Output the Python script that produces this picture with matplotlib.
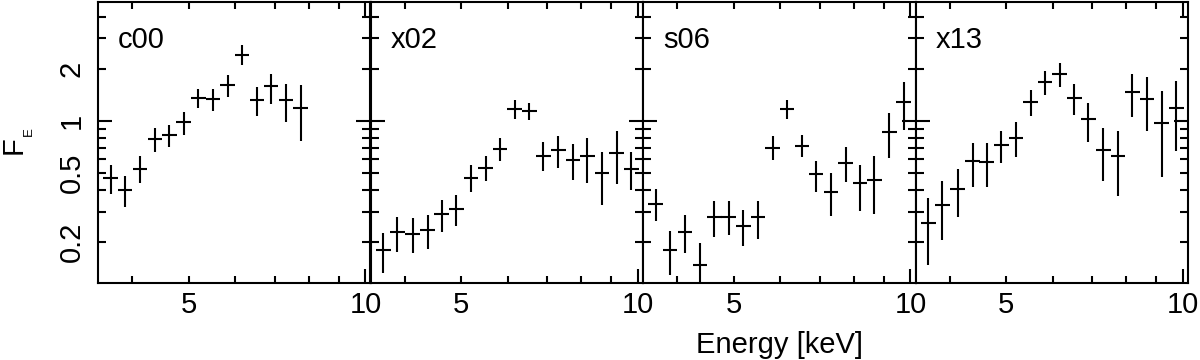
import matplotlib
matplotlib.use("Agg")
import matplotlib.pyplot as plt
from matplotlib.ticker import FixedLocator, FixedFormatter, NullFormatter
import numpy as np

plt.rcParams['font.family'] = ['Liberation Sans', 'DejaVu Sans']

# ---------------- data ----------------
panel_names = ["c00", "x02", "s06", "x13"]

energy_keV = [3.68, 3.89, 4.13, 4.38, 4.63, 4.90, 5.19, 5.50, 5.82, 6.16,
              6.53, 6.90, 7.32, 7.75, 8.20, 8.68, 9.20, 9.74]
log_half_bin = 0.0125  # half bin width in log10(E)

c00_flux = [0.468, 0.401, 0.530, 0.785, 0.831, 0.982, 1.350, 1.338, 1.610, 2.395,
            1.320, 1.596, 1.320, 1.193]
c00_lo = [0.379, 0.319, 0.438, 0.666, 0.706, 0.831, 1.183, 1.147, 1.380, 2.098,
          1.068, 1.252, 0.982, 0.767]
c00_hi = [0.554, 0.479, 0.624, 0.908, 0.948, 1.131, 1.521, 1.521, 1.838, 2.734,
          1.575, 1.879, 1.646, 1.610]

x02_flux = [0.180, 0.229, 0.224, 0.236, 0.291, 0.312, 0.468, 0.535, 0.690, 1.172,
            1.142, 0.632, 0.681, 0.597, 0.624, 0.500, 0.652, 0.530]
x02_lo = [0.132, 0.175, 0.172, 0.183, 0.229, 0.247, 0.387, 0.448, 0.584, 1.027,
          1.013, 0.516, 0.535, 0.458, 0.438, 0.326, 0.434, 0.401]
x02_hi = [0.226, 0.279, 0.276, 0.288, 0.352, 0.376, 0.554, 0.629, 0.802, 1.320,
          1.264, 0.754, 0.820, 0.738, 0.802, 0.666, 0.876, 0.660]

s06_flux = [0.333, 0.180, 0.229, 0.147, 0.279, 0.279, 0.247, 0.279, 0.696, 1.167,
            0.721, 0.494, 0.389, 0.571, 0.438, 0.458, 0.869, 1.291]
s06_lo = [0.266, 0.129, 0.172, 0.105, 0.215, 0.221, 0.190, 0.209, 0.592, 1.022,
          0.616, 0.389, 0.282, 0.444, 0.301, 0.291, 0.610, 0.888]
s06_hi = [0.405, 0.231, 0.288, 0.198, 0.344, 0.344, 0.305, 0.347, 0.820, 1.320,
          0.831, 0.584, 0.500, 0.706, 0.559, 0.632, 1.117, 1.683]

x13_flux = [0.256, 0.326, 0.405, 0.584, 0.579, 0.728, 0.802, 1.291, 1.683, 1.879,
            1.362, 1.022, 0.681, 0.629, 1.462, 1.338, 0.978, 1.183]
x13_lo = [0.147, 0.205, 0.279, 0.416, 0.414, 0.576, 0.618, 1.068, 1.411, 1.575,
          1.083, 0.761, 0.448, 0.371, 1.050, 0.876, 0.475, 0.675]
x13_hi = [0.359, 0.448, 0.528, 0.751, 0.744, 0.876, 0.982, 1.507, 1.947, 2.164,
          1.632, 1.264, 0.908, 0.880, 1.879, 1.798, 1.487, 1.705]

panel_data = [(c00_flux, c00_lo, c00_hi), (x02_flux, x02_lo, x02_hi),
              (s06_flux, s06_lo, s06_hi), (x13_flux, x13_lo, x13_hi)]

x_major = [10]
x_minor = [4, 5, 6, 7, 8, 9]
x_minor_labels = ["", "5", "", "", "", ""]
y_major = [1]
y_minor = [0.2, 0.3, 0.4, 0.5, 0.6, 0.7, 0.8, 0.9, 2, 3, 4]
y_minor_labels = ["0.2", "", "", "0.5", "", "", "", "", "2", "", ""]

# ---------------- figure ----------------
W, H = 1200, 360
fig = plt.figure(figsize=(W / 100, H / 100), dpi=100)

left_px, right_px, top_px, bot_px = 98, 1188, 2, 283
pw = (right_px - left_px) / 4
FS = 21
LW = 1.5

for i, (name, (flux, lo, hi)) in enumerate(zip(panel_names, panel_data)):
    ax = fig.add_axes([(left_px + i * pw) / W, 1 - bot_px / H, pw / W, (bot_px - top_px) / H])
    n = len(flux)
    E = np.array(energy_keV[:n])
    f = np.array(flux)
    yerr = [f - np.array(lo), np.array(hi) - f]
    xerr = [E * (1 - 10 ** (-log_half_bin)), E * (10 ** log_half_bin - 1)]
    ax.errorbar(E, f, yerr=yerr, xerr=xerr, fmt='none', ecolor='black',
                elinewidth=LW, capsize=0, clip_on=True)
    ax.set_xscale('log')
    ax.set_yscale('log')
    ax.set_xlim(3.5, 10.2)
    ax.set_ylim(0.116, 4.87)

    ax.xaxis.set_major_locator(FixedLocator(x_major))
    ax.xaxis.set_minor_locator(FixedLocator(x_minor))
    ax.xaxis.set_major_formatter(FixedFormatter(["10"]))
    ax.xaxis.set_minor_formatter(FixedFormatter(x_minor_labels))

    ax.yaxis.set_major_locator(FixedLocator(y_major))
    ax.yaxis.set_minor_locator(FixedLocator(y_minor))
    if i == 0:
        ax.yaxis.set_major_formatter(FixedFormatter(["1"]))
        ax.yaxis.set_minor_formatter(FixedFormatter(y_minor_labels))
    else:
        ax.yaxis.set_major_formatter(NullFormatter())
        ax.yaxis.set_minor_formatter(NullFormatter())

    ax.tick_params(axis='both', which='both', direction='in', top=True, right=True,
                   width=LW, labelsize=FS, color='black')
    ax.tick_params(axis='x', which='major', length=10, pad=6)
    ax.tick_params(axis='x', which='minor', length=5, pad=6)
    ax.tick_params(axis='y', which='major', length=10, pad=9, labelrotation=90)
    ax.tick_params(axis='y', which='minor', length=5.5, pad=9, labelrotation=90)
    for lab in ax.get_yticklabels(which='both'):
        lab.set_va('center')
    for sp in ax.spines.values():
        sp.set_linewidth(LW)

    ax.text(20 / pw, 1 - 46 / (bot_px - top_px), name, transform=ax.transAxes,
            fontsize=FS, ha='left', va='baseline')

# y label F_E
fig.text(21.7 / W, 1 - 145.5 / H, "F", fontsize=FS, rotation=90,
         rotation_mode='anchor', ha='center', va='baseline')
fig.text(31.5 / W, 1 - 132 / H, "E", fontsize=9.5, rotation=90,
         rotation_mode='anchor', ha='center', va='baseline')

# x label
fig.text(780 / W, 1 - 353 / H, "Energy [keV]", fontsize=FS, ha='center', va='baseline')

fig.savefig("out.png", dpi=100)
